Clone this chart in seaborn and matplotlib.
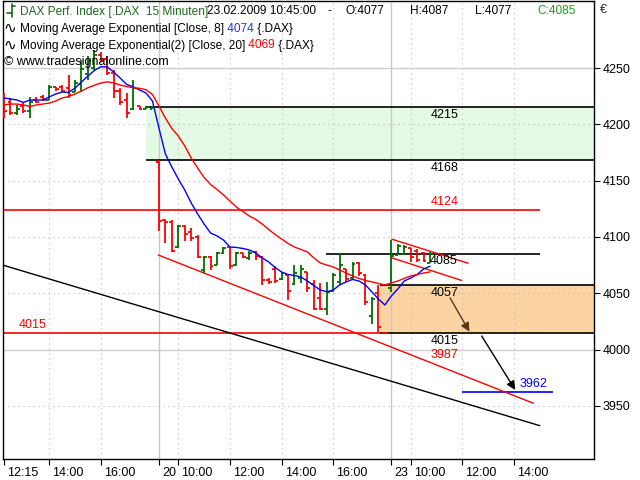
"""DAX 15 minute bar chart with EMA overlays and hand drawn levels."""

import matplotlib
matplotlib.use("Agg")
import matplotlib.pyplot as plt
import matplotlib.transforms as mtransforms
from matplotlib.lines import Line2D
import numpy as np
import pandas as pd
import seaborn as sns

# 15 minute slots: 0..23 = 19.02. from 12:15, 24..58 = 20.02., 59 = closing print, 60..66 = 23.02.
OPEN = [4225, 4220, 4210, 4216, 4212, 4222, 4224, 4222, 4233, 4233, 4232, 4229, 4236, 4245,
        4250, 4262, 4258, 4246, 4230, 4222, 4214, 4216, 4214, 4214,
        4167, 4115, 4113, 4091, 4110, 4104, 4100, 4071, 4082, 4075, 4086, 4091, 4075, 4086,
        4081, 4087, 4082, 4062, 4072, 4063, 4066, 4058, 4064, 4069, 4058, 4046, 4036, 4052,
        4060, 4072, 4064, 4077, 4066, 4030, 4050, 4015,
        4055, 4084, 4085, 4090, 4088, 4086, 4077]
HIGH = [4228, 4223, 4217, 4220, 4224, 4224, 4226, 4235, 4233, 4235, 4244, 4239, 4257, 4261,
        4266, 4264, 4261, 4248, 4232, 4228, 4239, 4216, 4216, 4215,
        4168, 4116, 4115, 4111, 4111, 4108, 4102, 4083, 4083, 4087, 4091, 4091, 4087, 4086,
        4088, 4088, 4083, 4064, 4074, 4069, 4066, 4075, 4075, 4069, 4062, 4059, 4060, 4068,
        4086, 4072, 4078, 4078, 4067, 4047, 4057, 4015,
        4097, 4094, 4093, 4090, 4089, 4087, 4087]
LOW = [4206, 4208, 4208, 4210, 4206, 4219, 4221, 4222, 4230, 4229, 4223, 4229, 4229, 4239,
       4248, 4255, 4244, 4223, 4217, 4206, 4213, 4213, 4214, 4214,
       4105, 4095, 4087, 4090, 4096, 4096, 4081, 4068, 4071, 4075, 4085, 4072, 4074, 4081,
       4080, 4080, 4057, 4058, 4059, 4062, 4044, 4057, 4059, 4051, 4035, 4035, 4031, 4051,
       4057, 4060, 4063, 4065, 4040, 4023, 4016, 4015,
       4051, 4084, 4084, 4078, 4078, 4078, 4077]
CLOSE = [4212, 4210, 4214, 4212, 4220, 4220, 4222, 4233, 4231, 4230, 4226, 4237, 4249, 4256,
         4262, 4257, 4246, 4230, 4220, 4210, 4232, 4214, 4215, 4215,
         4114, 4113, 4088, 4110, 4103, 4099, 4082, 4082, 4074, 4086, 4090, 4074, 4086, 4082,
         4086, 4083, 4062, 4060, 4061, 4068, 4052, 4068, 4072, 4055, 4036, 4036, 4051, 4066,
         4075, 4063, 4076, 4068, 4042, 4045, 4020, 4015,
         4083, 4092, 4091, 4082, 4080, 4079, 4085]
EMA8 = [4223.4, 4222.5, 4221.6, 4219.4, 4221.6, 4221.6, 4221.6, 4224.3, 4226.9, 4228.7,
        4228.3, 4232.2, 4237.6, 4242.9, 4247.8, 4251.2, 4250.9, 4246.4, 4241.1, 4235.4,
        4233.4, 4230.5, 4227.8, 4220.7,
        4196.7, 4173.7, 4162.1, 4151.5, 4141.7, 4130.2, 4120.4, 4111.5, 4103.5, 4100.9,
        4097.3, 4091.1, 4090.7, 4089.8, 4088.5, 4085.8, 4081.4, 4077.8, 4072.9, 4068.9,
        4066.7, 4065.8, 4064.5, 4060.9, 4056.9, 4052.9, 4051.4, 4052.9, 4057.4, 4060.1,
        4062.3, 4060.9, 4057.4, 4051.2, 4045.0, 4039.6,
        4047.6, 4053.8, 4060.9, 4063.6, 4066.7, 4071.6, 4074.0]
EMA20 = [4217.2, 4218.0, 4218.0, 4217.2, 4215.8, 4217.2, 4218.0, 4218.9, 4220.7, 4223.4,
         4224.7, 4226.9, 4229.6, 4232.5, 4234.7, 4236.7, 4237.8, 4236.7, 4234.9, 4233.5,
         4232.5, 4232.0, 4230.7, 4226.5,
         4216.3, 4205.6, 4196.3, 4189.6, 4180.8, 4170.1, 4161.2, 4152.8, 4146.6, 4142.2,
         4137.3, 4131.9, 4126.6, 4122.6, 4118.6, 4115.5, 4111.5, 4106.7, 4102.2, 4098.2,
         4094.2, 4091.1, 4088.9, 4086.7, 4081.4, 4076.9, 4075.1, 4073.4, 4070.7, 4068.0,
         4065.4, 4063.2, 4061.4, 4060.1, 4058.7, 4057.4,
         4059.2, 4060.9, 4063.2, 4065.4, 4066.7, 4068.0, 4069.0]

TICK_SLOTS = [0, 7, 15, 24, 27, 35, 43, 51, 60, 63, 71, 79]
TICK_LABELS = ["12:15", "14:00", "16:00", "20", "10:00", "12:00", "14:00", "16:00",
               "23", "10:00", "12:00", "14:00"]
DAY_STARTS = [24, 60]
Y_TICKS = [3950, 4000, 4050, 4100, 4150, 4200, 4250]

# drawing objects
GREEN_ZONE = (4168, 4215)
GREEN_ZONE_START = 22.0
ORANGE_ZONE = (4015, 4057)
ORANGE_ZONE_START = 58.25
RED_LEVELS = [(4124, 83.0), (4015, 58.25)]
LEVEL_4085 = (4085, 49.9, 83.0)
TARGET_3962 = (3962, 70.9, 85.1)
RED_CHANNEL = [(23.9, 4084.0), (82.0, 3952.4)]
BLACK_TREND = [(-0.15, 4075.0), (83.0, 3932.5)]
FLAG_UPPER = [(60.1, 4098.0), (71.9, 4076.7)]
FLAG_LOWER = [(60.1, 4081.4), (70.9, 4061.4)]
ARROW_1 = [(69.1, 4045.9), (72.1, 4016.0)]
ARROW_2 = [(74.0, 4012.1), (79.2, 3964.2)]

UP = "#007000"
DOWN = "#ff0000"
W, H = 640, 480

sns.set_theme(style="white")
plt.rcParams["font.family"] = ["Liberation Sans", "DejaVu Sans"]

df = pd.DataFrame({"slot": np.arange(len(CLOSE)), "open": OPEN, "high": HIGH,
                   "low": LOW, "close": CLOSE, "ema8": EMA8, "ema20": EMA20})

fig = plt.figure(figsize=(6.4, 4.8), dpi=100)
ax = fig.add_axes([3 / W, 1 - 459 / H, 591 / W, 458 / H])
xmin, xmax = -0.155, 91.4
ymin, ymax = 3902.9, 4309.5

# zones
ax.axhspan(GREEN_ZONE[0], GREEN_ZONE[1], xmin=(GREEN_ZONE_START - xmin) / (xmax - xmin),
           color="#e4fae4", lw=0, zorder=0.5)
ax.axhspan(ORANGE_ZONE[0], ORANGE_ZONE[1], xmin=(ORANGE_ZONE_START - xmin) / (xmax - xmin),
           color="#fcd4a2", lw=0, zorder=0.5)

# grid
for t in TICK_SLOTS[1:]:
    if t in DAY_STARTS:
        ax.axvline(t, color="#c8c8c8", lw=1, zorder=0.6)
    else:
        ax.axvline(t, color="#b8b8b8", lw=0.8, ls=(0, (1, 3.5)), zorder=0.6)
for v in Y_TICKS:
    if v in (4000, 4250):
        ax.axhline(v, color="#cfcfcf", lw=1, zorder=0.6)
    else:
        ax.axhline(v, color="#b8b8b8", lw=0.8, ls=(0, (1, 3.5)), zorder=0.6)

# levels
for lvl in GREEN_ZONE:
    ax.hlines(lvl, GREEN_ZONE_START, xmax, color="black", lw=1.2, zorder=2)
for lvl in ORANGE_ZONE:
    ax.hlines(lvl, ORANGE_ZONE_START, xmax, color="black", lw=1.2, zorder=2)
for lvl, end in RED_LEVELS:
    ax.hlines(lvl, xmin, end, color=DOWN, lw=1.2, zorder=2)
ax.hlines(LEVEL_4085[0], LEVEL_4085[1], LEVEL_4085[2], color="black", lw=1.2, zorder=2)
ax.hlines(TARGET_3962[0], TARGET_3962[1], TARGET_3962[2], color="#0000ff", lw=1.2, zorder=2)

for pts, col in [(RED_CHANNEL, DOWN), (BLACK_TREND, "black"),
                 (FLAG_UPPER, DOWN), (FLAG_LOWER, DOWN)]:
    ax.plot([pts[0][0], pts[1][0]], [pts[0][1], pts[1][1]], color=col, lw=1, zorder=2.5)

for pts, col in [(ARROW_1, "#5a3512"), (ARROW_2, "black")]:
    ax.annotate("", xy=pts[1], xytext=pts[0],
                arrowprops=dict(arrowstyle="-|>", color=col, lw=1, mutation_scale=13,
                                shrinkA=0, shrinkB=0), zorder=5)

# OHLC bars
colors = np.where(df["close"] > df["open"], UP, DOWN)
ax.vlines(df["slot"], df["low"], df["high"], colors=colors, lw=1.3, zorder=3)
ax.hlines(df["open"], df["slot"] - 0.45, df["slot"], colors=colors, lw=1.3, zorder=3)
ax.hlines(df["close"], df["slot"], df["slot"] + 0.45, colors=colors, lw=1.3, zorder=3)

# moving averages
sns.lineplot(data=df, x="slot", y="ema8", color="#0000ff", lw=1, ax=ax, zorder=4)
sns.lineplot(data=df, x="slot", y="ema20", color="#ff0000", lw=1, ax=ax, zorder=4)
ax.set_xlabel("")
ax.set_ylabel("")
ax.set_xlim(xmin, xmax)
ax.set_ylim(ymin, ymax)

# level labels
lab_x = 66.15
labels = [("4215", lab_x, 4215, -8, "black"), ("4168", lab_x, 4168, -8, "black"),
          ("4124", lab_x, 4124, 8, DOWN), ("4085", lab_x - 0.15, 4085, -7, "black"),
          ("4057", lab_x, 4057, -8, "black"), ("4015", lab_x, 4015, -8, "black"),
          ("3987", lab_x, 3987, 9, DOWN), ("4015", 2.2, 4015, 8, DOWN),
          ("3962", 79.9, 3962, 8, "#0000ff")]
for txt, x, y, dy, col in labels:
    ax.annotate(txt, (x, y), xytext=(0, dy), textcoords="offset pixels",
                ha="left", va="center", fontsize=9, color=col, zorder=6)

# axes styling
for sp in ax.spines.values():
    sp.set_color("black")
    sp.set_linewidth(1)
ax.yaxis.tick_right()
ax.set_yticks(Y_TICKS)
ax.set_yticklabels([str(v) for v in Y_TICKS])
ax.set_xticks(TICK_SLOTS)
ax.set_xticklabels(TICK_LABELS, ha="left")
ax.tick_params(axis="y", which="both", right=True, left=False, length=4, pad=2,
               labelsize=9, colors="black", width=0.8)
ax.tick_params(axis="x", which="both", bottom=True, length=4, pad=2,
               labelsize=9, colors="black", width=0.8)
offset = mtransforms.ScaledTranslation(3 / 100, 0, fig.dpi_scale_trans)
for lbl in ax.get_xticklabels():
    lbl.set_transform(lbl.get_transform() + offset)

fig.text(600 / W, 1 - 10 / H, "€", fontsize=9, ha="left", va="center")


# header
def put_text(x_px, y_px, s, color="black", size=8.6):
    fig.text(x_px / W, 1 - y_px / H, s, color=color, fontsize=size,
             ha="left", va="center", zorder=10)


def put_row(x_px, y_px, parts, size=8.6):
    renderer = fig.canvas.get_renderer()
    for s, c in parts:
        t = fig.text(x_px / W, 1 - y_px / H, s, color=c, fontsize=size,
                     ha="left", va="center", zorder=10)
        x_px += t.get_window_extent(renderer=renderer).width


for xs, ys in [([12, 12], [4, 17]), ([7, 12], [13, 13]), ([12, 15], [6, 6])]:
    fig.add_artist(Line2D([x / W for x in xs], [1 - y / H for y in ys],
                          color="#1d6b1d", lw=1.2, transform=fig.transFigure))
put_text(20, 11.5, "DAX Perf. Index [.DAX  15 Minuten]", "#1d6b1d")
put_text(207, 11.5, "23.02.2009 10:45:00")
put_text(328, 11.5, "-")
put_text(345, 11.5, "O:4077")
put_text(410, 11.5, "H:4087")
put_text(475, 11.5, "L:4077")
put_text(537, 11.5, "C:4085", "#1aa01a")

for y_px in (29, 45.5):
    put_text(3, y_px, "∿", size=11)
put_row(20, 29, [("Moving Average Exponential [Close, 8]", "black"),
                 (" 4074", "#3030ff"), (" {.DAX}", "black")])
put_row(20, 45.5, [("Moving Average Exponential(2) [Close, 20]", "black"),
                   (" 4069", "#ff0000"), (" {.DAX}", "black")])
put_text(4, 62.5, "© www.tradesignalonline.com", size=9)

fig.savefig("out.png", dpi=100)
